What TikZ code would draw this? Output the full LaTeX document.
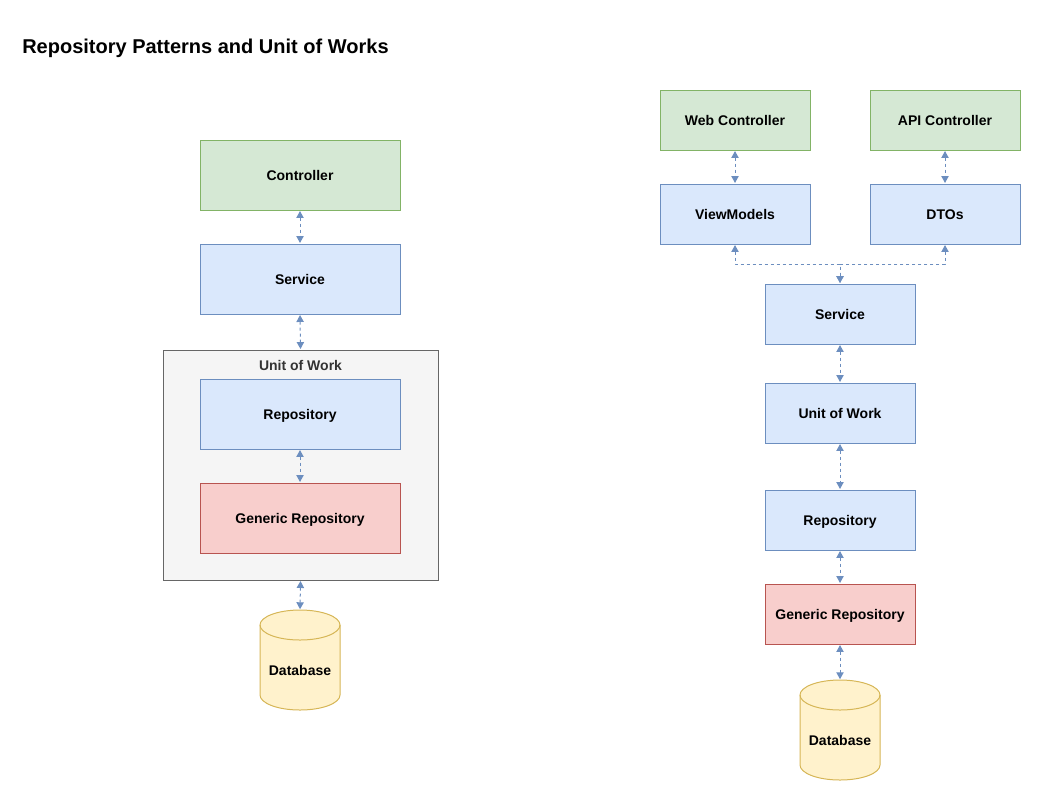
\documentclass[tikz,border=0pt]{standalone}
\usepackage{fontspec}
\setmainfont{Liberation Sans}
\usetikzlibrary{arrows.meta}
\definecolor{gfill}{HTML}{D5E8D4}\definecolor{gline}{HTML}{82B366}
\definecolor{bfill}{HTML}{DAE8FC}\definecolor{bline}{HTML}{6C8EBF}
\definecolor{rfill}{HTML}{F8CECC}\definecolor{rline}{HTML}{B85450}
\definecolor{yfill}{HTML}{FFF2CC}\definecolor{yline}{HTML}{D6B656}
\definecolor{cfill}{HTML}{F5F5F5}\definecolor{cline}{HTML}{666666}
\definecolor{ctext}{HTML}{333333}
\tikzset{
  lbl/.style={font=\bfseries\fontsize{10.5pt}{12pt}\selectfont, text height=7.6pt, text depth=0pt},
  box/.style={lbl, draw, line width=0.75pt, inner sep=0pt},
  green/.style={box, fill=gfill, draw=gline},
  blue/.style={box, fill=bfill, draw=bline},
  red/.style={box, fill=rfill, draw=rline},
  wide/.style={minimum width=150pt, minimum height=52.5pt},
  narrow/.style={minimum width=112.5pt, minimum height=45pt},
  container/.style={draw=cline, fill=cfill, line width=0.75pt, minimum width=206.25pt, minimum height=172.5pt, inner sep=0pt},
  dbbox/.style={minimum width=60pt, minimum height=75pt, inner sep=0pt},
  dbshape/.style={fill=yfill, draw=yline, line width=0.75pt},
  conn/.style={draw=bline, line width=0.75pt, dash pattern=on 2.25pt off 2.25pt, {Triangle[width=5.5pt,length=5.2pt]}-{Triangle[width=5.5pt,length=5.2pt]}, shorten <=0.4pt, shorten >=0.4pt},
}
\begin{document}
\begin{tikzpicture}[x=0.75pt,y=-0.75pt]
\useasboundingbox (0,0) rectangle (1041,801);
\node[anchor=base west, inner sep=0pt, font=\bfseries\fontsize{15pt}{18pt}\selectfont] (title) at (22,53) {Repository Patterns and Unit of Works};

% left column
\node[green, wide] (ctrl) at (300,175) {Controller};
\node[blue, wide] (svc) at (300,279) {Service};
\node[container] (uow) at (300.5,465) {};
\node[lbl, text=ctext, inner sep=0pt] (uowlabel) at (300.5,365) {Unit of Work};
\node[blue, wide] (repo) at (300,414) {Repository};
\node[red, wide] (gen) at (300,518) {Generic Repository};
\node[dbbox] (db) at (300,660) {};
\path[dbshape] (260,625) -- (260,695) arc[start angle=180,end angle=360,x radius=30pt,y radius=11.25pt] -- (340,625) arc[start angle=0,end angle=180,x radius=30pt,y radius=11.25pt] -- cycle;
\draw[dbshape, fill=none] (260,625) arc[start angle=180,end angle=360,x radius=30pt,y radius=11.25pt];
\node[lbl, inner sep=0pt] (dbtext) at (300,670) {Database};

\draw[conn] (ctrl.south) -- (svc.north);
\draw[conn] (svc.south) -- (uow.north);
\draw[conn] (repo.south) -- (gen.north);
\draw[conn] (uow.south) -- (db.north);

% right column
\node[green, narrow] (web) at (735,120) {Web Controller};
\node[green, narrow] (api) at (945,120) {API Controller};
\node[blue, narrow] (vm) at (735,214) {ViewModels};
\node[blue, narrow] (dto) at (945,214) {DTOs};
\node[blue, narrow] (rsvc) at (840,314) {Service};
\node[blue, narrow] (ruow) at (840,413) {Unit of Work};
\node[blue, narrow] (rrepo) at (840,520) {Repository};
\node[red, narrow] (rgen) at (840,614) {Generic Repository};
\node[dbbox] (rdb) at (840,730) {};
\path[dbshape] (800,695) -- (800,765) arc[start angle=180,end angle=360,x radius=30pt,y radius=11.25pt] -- (880,695) arc[start angle=0,end angle=180,x radius=30pt,y radius=11.25pt] -- cycle;
\draw[dbshape, fill=none] (800,695) arc[start angle=180,end angle=360,x radius=30pt,y radius=11.25pt];
\node[lbl, inner sep=0pt] (rdbtext) at (840,740) {Database};

\coordinate (j) at (840,264);
\draw[conn] (web.south) -- (vm.north);
\draw[conn] (api.south) -- (dto.north);
\draw[conn] (vm.south) |- (j) -- (rsvc.north);
\draw[conn] (dto.south) |- (j) -- (rsvc.north);
\draw[conn] (rsvc.south) -- (ruow.north);
\draw[conn] (ruow.south) -- (rrepo.north);
\draw[conn] (rrepo.south) -- (rgen.north);
\draw[conn] (rgen.south) -- (rdb.north);
\end{tikzpicture}
\end{document}
